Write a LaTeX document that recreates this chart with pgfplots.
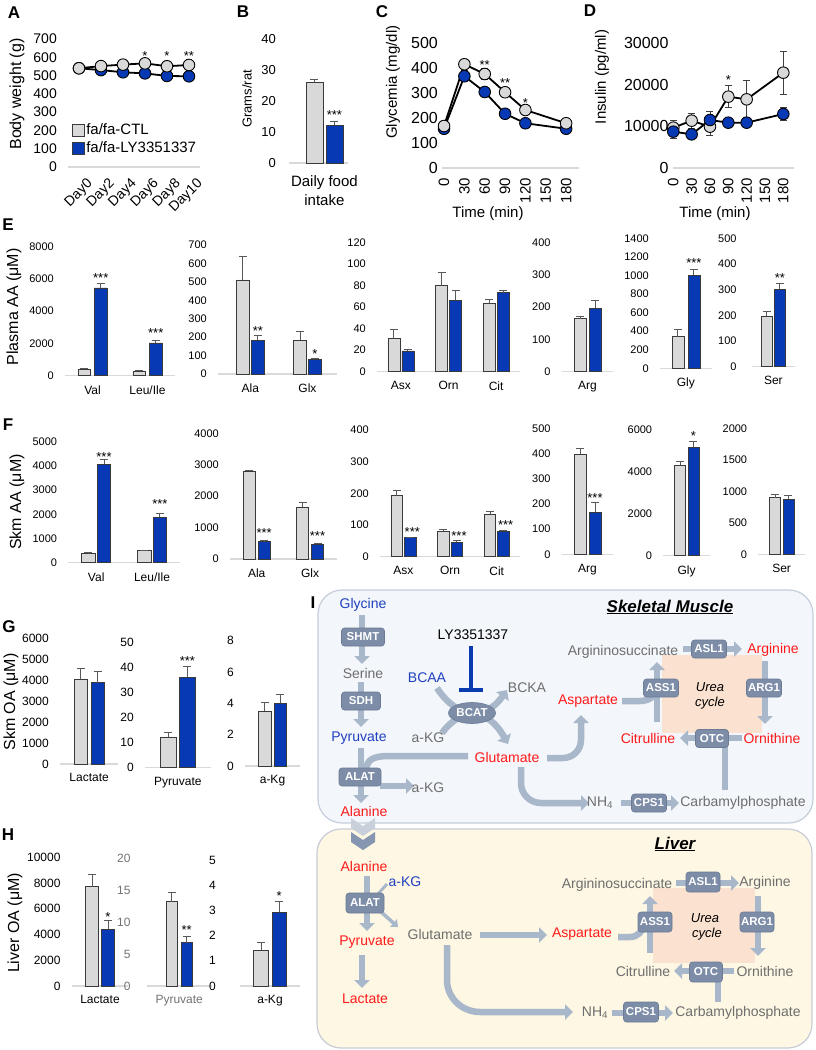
\documentclass[border=0pt]{standalone}
\usepackage{fontspec}
\setmainfont{Liberation Sans}
\usepackage{pgfplots}
\pgfplotsset{compat=1.18}
\usetikzlibrary{arrows.meta,shapes.geometric}
\newcommand{\fs}[1]{\fontsize{#1}{#1}\selectfont}
\definecolor{ctlc}{HTML}{D9D9D9}
\definecolor{lyc}{HTML}{0839B5}
\definecolor{axc}{HTML}{D9D9D9}
\definecolor{errc}{HTML}{595959}
\definecolor{bordc}{HTML}{3A3A3A}
\definecolor{smf}{HTML}{F3F6FA}
\definecolor{smb}{HTML}{C5CEDB}
\definecolor{lvf}{HTML}{FDF7E3}
\definecolor{lvb}{HTML}{C9CCD6}
\definecolor{urea}{HTML}{FBE1CF}
\definecolor{arrc}{HTML}{A9B7CA}
\definecolor{enzc}{HTML}{7D8DA8}
\definecolor{enzd}{HTML}{6B7B96}
\definecolor{grayc}{HTML}{6E6E6E}
\definecolor{redc}{HTML}{FF1A1A}
\definecolor{bluec}{HTML}{2040C0}
\definecolor{inhc}{HTML}{0A3CB0}
\definecolor{chev1}{HTML}{C8D0DC}
\definecolor{chev2}{HTML}{8796B0}
\pgfplotsset{
 panel/.style={scale only axis, anchor=south west, clip=false,
   axis x line*=bottom, axis y line*=left,
   x axis line style={draw=axc, line width=1.4pt, -},
   y axis line style={draw=none},
   major tick length=0pt, tick style={draw=none},
   ymin=0, scaled y ticks=false,
   /pgf/number format/1000 sep={}, /pgf/number format/assume math mode=true},
 yt/.style 2 args={yticklabel style={anchor=east, inner sep=0pt, xshift=-#1, font=\fs{#2}}},
 bp/.style 2 args={panel, ybar=#2, bar width=#1, yt={11pt}{11},
   xticklabel style={anchor=north, inner sep=0pt, yshift=-9.5pt, font=\fs{12}}},
 ctl/.style={fill=ctlc, draw=bordc, line width=0.6pt, error bars/y dir=plus, error bars/y explicit,
   error bars/error bar style={draw=errc, line width=0.8pt},
   error bars/error mark options={draw=errc, rotate=90, mark size=4pt, line width=0.8pt}},
 ly/.style={fill=lyc, draw=bordc, line width=0.6pt, error bars/y dir=plus, error bars/y explicit,
   error bars/error bar style={draw=errc, line width=0.8pt},
   error bars/error mark options={draw=errc, rotate=90, mark size=4pt, line width=0.8pt}},
 ctlline/.style={black, line width=1.8pt, mark=*, mark size=5.8pt, mark options={fill=ctlc, draw=black, line width=0.9pt}},
 lyline/.style={black, line width=1.8pt, mark=*, mark size=5.8pt, mark options={fill=lyc, draw=black, line width=0.9pt}},
 lerr/.style={error bars/y dir=both, error bars/y explicit,
   error bars/error bar style={draw=black!75, line width=0.9pt},
   error bars/error mark options={draw=black!75, rotate=90, mark size=3.5pt, line width=0.9pt}},
 sqleg/.style={legend image code/.code={\draw[##1, line width=0.6pt] (0pt,-6pt) rectangle (12pt,6pt);}},
}
\tikzset{
 st/.style={font=\fs{13}, anchor=base, yshift=2pt, inner sep=0pt},
 txt/.style={font=\fs{14}, inner sep=0pt},
 gr/.style={txt, text=grayc}, rd/.style={txt, text=redc}, bl/.style={txt, text=bluec},
 enz/.style={fill=enzc, draw=enzd, line width=0.6pt, rounded corners=3pt, text=white, font=\bfseries\fs{11.5}, inner sep=0pt, minimum height=18pt, minimum width=#1},
 enz/.default=38pt,
 fl/.style={draw=arrc, line width=6.5pt, -{Triangle[length=8pt, width=15pt]}},
 fln/.style={draw=arrc, line width=6.5pt},
}
\begin{document}
\begin{tikzpicture}[x=1pt,y=1pt]
\useasboundingbox (0,0) rectangle (815,-1050);
\fill[white] (0,0) rectangle (815,-1050);

% panel letters
\foreach \l/\x/\y in {A/14/13, B/243/12, C/382/12, D/590/11, E/8/225, F/8/425, G/9/627, H/8/835, I/313/603}
  \node[font=\bfseries\fs{17}] at (\x,-\y) {\l};

% axis labels
\node[rotate=90, font=\fs{16}] at (17,-94) {Body weight (g)};
\node[rotate=90, font=\fs{13}] at (247,-99) {Grams/rat};
\node[rotate=90, font=\fs{15}] at (393,-82) {Glycemia (mg/dl)};
\node[rotate=90, font=\fs{15}] at (602,-77) {Insulin (pg/ml)};
\node[font=\fs{15}] at (488,-214) {Time (min)};
\node[font=\fs{15}] at (715,-214) {Time (min)};
\node[rotate=90, font=\fs{16}] at (14,-307) {Plasma AA (μM)};
\node[rotate=90, font=\fs{16}] at (17,-502) {Skm AA (μM)};
\node[rotate=90, font=\fs{16}] at (11,-702) {Skm OA (μM)};
\node[rotate=90, font=\fs{16}] at (15,-923) {Liver OA (μM)};

% ---------- A ----------
\begin{axis}[panel, at={(68pt,-167pt)}, width=132pt, height=128pt, xmin=-0.5, xmax=5.5, ymax=700,
  ytick={0,100,...,700}, xtick={0,...,5}, xticklabels={Day0,Day2,Day4,Day6,Day8,Day10},
  yt={11pt}{14},
  xticklabel style={font=\fs{14}, inner sep=0pt, xshift=7pt, yshift=-10pt, rotate=45, anchor=north east},
  legend style={draw=none, fill=none, at={(axis cs:-0.32,246)}, anchor=north west, font=\fs{15}, inner sep=0pt, row sep=3pt, nodes={inner sep=1.5pt}},
  legend cell align=left]
\addlegendimage{sqleg, fill=ctlc, draw=bordc}
\addlegendentry{fa/fa-CTL}
\addlegendimage{sqleg, fill=lyc, draw=bordc}
\addlegendentry{fa/fa-LY3351337}
\addplot[lyline, forget plot] coordinates {(0,540) (1,530) (2,518) (3,512) (4,498) (5,496)};
\addplot[ctlline, forget plot] coordinates {(0,540) (1,552) (2,560) (3,567) (4,551) (5,558)};
\node[st] at (axis cs:3,572) {*};
\node[st] at (axis cs:4,572) {*};
\node[st] at (axis cs:5,572) {**};
\end{axis}

% ---------- B ----------
\begin{axis}[panel, ybar=3pt, bar width=17pt, at={(289pt,-163pt)}, width=59pt, height=124pt,
  xmin=-0.6, xmax=0.4, ymax=40, ytick={0,10,...,40}, xtick={0}, xticklabels={{Daily food\\intake}},
  yt={13pt}{13},
  xticklabel style={align=center, anchor=north, inner sep=0pt, yshift=-12pt, font=\fontsize{15}{19}\selectfont}]
\addplot[ctl] coordinates {(0,26.1) +- (0,1.0)};
\addplot[ly] coordinates {(0,12.3) +- (0,1.2)};
\node[st, xshift=10pt] at (axis cs:0,13.4) {***};
\end{axis}

% ---------- C ----------
\begin{axis}[panel, at={(442pt,-168pt)}, width=137pt, height=125pt, xmin=-3, xmax=199, ymax=500,
  ytick={0,100,...,500}, xtick={0,30,...,180}, yt={4pt}{16},
  xticklabel style={font=\fs{15}, inner sep=0pt, yshift=-10pt, rotate=90, anchor=east}]
\addplot[lyline, lerr] coordinates {(0,157) +- (0,6) (30,367) +- (0,22) (60,304) +- (0,12) (90,217) +- (0,8) (120,179) +- (0,6) (180,157) +- (0,5)};
\addplot[ctlline, lerr] coordinates {(0,168) +- (0,8) (30,415) +- (0,17) (60,376) +- (0,23) (90,303) +- (0,8) (120,232) +- (0,10) (180,179) +- (0,8)};
\node[st] at (axis cs:60,386) {**};
\node[st] at (axis cs:90,314) {**};
\node[st] at (axis cs:120,234) {*};
\end{axis}

% ---------- D ----------
\begin{axis}[panel, at={(672.7pt,-168pt)}, width=121.3pt, height=125pt, xmin=-1, xmax=197.5, ymax=30000,
  ytick={0,10000,20000,30000}, xtick={0,30,...,180}, yt={4pt}{16},
  xticklabel style={font=\fs{15}, inner sep=0pt, yshift=-10pt, rotate=90, anchor=east}]
\addplot[ctlline, lerr] coordinates {(0,9680) +- (0,1700) (30,11360) +- (0,1800) (60,9920) +- (0,2200) (90,17120) +- (0,2700) (120,16480) +- (0,4500) (180,22880) +- (0,5200)};
\addplot[lyline, lerr] coordinates {(0,8720) +- (0,1600) (30,8080) +- (0,1000) (60,11520) +- (0,2000) (90,10880) +- (0,1000) (120,10880) +- (0,1200) (180,12960) +- (0,1500)};
\node[st] at (axis cs:90,19600) {*};
\end{axis}

% ---------- E ----------
\begin{axis}[bp={12.5pt}{4pt}, at={(65pt,-375.7pt)}, width=110pt, height=129pt, xmin=-0.5, xmax=1.5,
  ymax=8000, ytick={0,2000,...,8000}, xtick={0,1}, xticklabels={Val,Leu/Ile}]
\addplot[ctl] coordinates {(0,420) +- (0,40) (1,300) +- (0,30)};
\addplot[ly] coordinates {(0,5440) +- (0,290) (1,2040) +- (0,180)};
\node[st, xshift=8.25pt] at (axis cs:0,5662) {***};
\node[st, xshift=8.25pt] at (axis cs:1,2251) {***};
\end{axis}
\begin{axis}[bp={12.5pt}{2.5pt}, at={(218pt,-374pt)}, width=119pt, height=129pt, xmin=-0.565, xmax=1.516,
  ymax=700, ytick={0,100,...,700}, xtick={0,1}, xticklabels={Ala,Glx}]
\addplot[ctl] coordinates {(0,511) +- (0,125) (1,182) +- (0,47)};
\addplot[ly] coordinates {(0,184) +- (0,25) (1,80) +- (0,7)};
\node[st, xshift=7.5pt] at (axis cs:0,199) {**};
\node[st, xshift=7.5pt] at (axis cs:1,72) {*};
\end{axis}
\begin{axis}[bp={12pt}{2pt}, at={(377pt,-371.7pt)}, width=143pt, height=129pt, xmin=-0.5, xmax=2.5,
  ymax=120, ytick={0,20,...,120}, xtick={0,1,2}, xticklabels={Asx,Orn,Cit}]
\addplot[ctl] coordinates {(0,31) +- (0,8) (1,80.4) +- (0,12) (2,63.6) +- (0,4)};
\addplot[ly] coordinates {(0,19.3) +- (0,1) (1,66.4) +- (0,9) (2,73.5) +- (0,2.5)};
\end{axis}
\begin{axis}[bp={12pt}{3pt}, at={(561.7pt,-371.7pt)}, width=51.6pt, height=129.4pt, xmin=-0.5, xmax=0.5,
  ymax=400, ytick={0,100,...,400}, xtick={0}, xticklabels={Arg}]
\addplot[ctl] coordinates {(0,164) +- (0,8)};
\addplot[ly] coordinates {(0,196) +- (0,23)};
\end{axis}
\begin{axis}[bp={12pt}{4pt}, at={(660pt,-368.3pt)}, width=51.7pt, height=130pt, xmin=-0.5, xmax=0.5,
  ymax=1400, ytick={0,200,...,1400}, xtick={0}, xticklabels={Gly}]
\addplot[ctl] coordinates {(0,340) +- (0,80)};
\addplot[ly] coordinates {(0,1005) +- (0,61)};
\node[st, xshift=8pt] at (axis cs:0,1065) {***};
\end{axis}
\begin{axis}[bp={10.5pt}{2.5pt}, at={(751.7pt,-366.7pt)}, width=43.3pt, height=128.4pt, xmin=-0.5, xmax=0.5,
  ymax=500, ytick={0,100,...,500}, xtick={0}, xticklabels={Ser}, yt={4pt}{11}]
\addplot[ctl] coordinates {(0,197) +- (0,20)};
\addplot[ly] coordinates {(0,303) +- (0,22)};
\node[st, xshift=6.5pt] at (axis cs:0,320) {**};
\end{axis}

% ---------- F ----------
\begin{axis}[bp={13.3pt}{2.3pt}, at={(68.3pt,-562.7pt)}, width=111.7pt, height=121pt, xmin=-0.5, xmax=1.5,
  ymax=5000, ytick={0,1000,...,5000}, xtick={0,1}, xticklabels={Val,Leu/Ile}]
\addplot[ctl] coordinates {(0,400) +- (0,15) (1,500) +- (0,20)};
\addplot[ly] coordinates {(0,4066) +- (0,200) (1,1876) +- (0,180)};
\node[st, xshift=7.8pt] at (axis cs:0,4091) {***};
\node[st, xshift=7.8pt] at (axis cs:1,2161) {***};
\end{axis}
\begin{axis}[bp={11.7pt}{3.3pt}, at={(230pt,-559pt)}, width=106.7pt, height=125.7pt, xmin=-0.5, xmax=1.5,
  ymax=4000, ytick={0,1000,...,4000}, xtick={0,1}, xticklabels={Ala,Glx}]
\addplot[ctl] coordinates {(0,2802) +- (0,30) (1,1656) +- (0,137)};
\addplot[ly] coordinates {(0,551) +- (0,30) (1,468) +- (0,30)};
\node[st, xshift=7.5pt] at (axis cs:0,624) {***};
\node[st, xshift=7.5pt] at (axis cs:1,519) {***};
\end{axis}
\begin{axis}[bp={11.5pt}{2pt}, at={(380pt,-556.7pt)}, width=140pt, height=126.7pt, xmin=-0.5, xmax=2.5,
  ymax=400, ytick={0,100,...,400}, xtick={0,1,2}, xticklabels={Asx,Orn,Cit}]
\addplot[ctl] coordinates {(0,193) +- (0,17) (1,81) +- (0,4) (2,135) +- (0,7)};
\addplot[ly] coordinates {(0,60) +- (0,2) (1,45) +- (0,6) (2,81) +- (0,3)};
\node[st, xshift=9pt] at (axis cs:0,58) {***};
\node[st, xshift=9pt] at (axis cs:1,44) {***};
\node[st, xshift=9pt] at (axis cs:2,81) {***};
\end{axis}
\begin{axis}[bp={12pt}{3pt}, at={(561.7pt,-554.3pt)}, width=51.6pt, height=126pt, xmin=-0.5, xmax=0.5,
  ymax=500, ytick={0,100,...,500}, xtick={0}, xticklabels={Arg}]
\addplot[ctl] coordinates {(0,398) +- (0,22)};
\addplot[ly] coordinates {(0,167) +- (0,39)};
\node[st, xshift=7.5pt] at (axis cs:0,198) {***};
\end{axis}
\begin{axis}[bp={11pt}{2.5pt}, at={(663.3pt,-555.7pt)}, width=46.7pt, height=126.4pt, xmin=-0.5, xmax=0.5,
  ymax=6000, ytick={0,2000,4000,6000}, xtick={0}, xticklabels={Gly}]
\addplot[ctl] coordinates {(0,4290) +- (0,190)};
\addplot[ly] coordinates {(0,5145) +- (0,285)};
\node[st, xshift=6.75pt] at (axis cs:0,5391) {*};
\end{axis}
\begin{axis}[bp={11pt}{2.5pt}, at={(758.3pt,-554.3pt)}, width=46.7pt, height=126pt, xmin=-0.5, xmax=0.5,
  ymax=2000, ytick={0,500,...,2000}, xtick={0}, xticklabels={Ser}]
\addplot[ctl] coordinates {(0,898) +- (0,59)};
\addplot[ly] coordinates {(0,878) +- (0,63)};
\end{axis}

% ---------- G ----------
\begin{axis}[bp={13.5pt}{3.5pt}, at={(60pt,-764pt)}, width=58.3pt, height=125.7pt, xmin=-0.5, xmax=0.5,
  ymax=6000, ytick={0,1000,...,6000}, xtick={0}, xticklabels={Lactate}, yticklabel style={font=\fs{12}}]
\addplot[ctl] coordinates {(0,4043) +- (0,525)};
\addplot[ly] coordinates {(0,3881) +- (0,525)};
\end{axis}
\begin{axis}[bp={15.5pt}{3.5pt}, at={(145pt,-767.3pt)}, width=65.7pt, height=124.6pt, xmin=-0.5, xmax=0.5,
  ymax=50, ytick={0,10,...,50}, xtick={0}, xticklabels={Pyruvate}, yticklabel style={font=\fs{12}}]
\addplot[ctl] coordinates {(0,12.0) +- (0,1.9)};
\addplot[ly] coordinates {(0,36.1) +- (0,4.5)};
\node[st, xshift=9.5pt] at (axis cs:0,40) {***};
\end{axis}
\begin{axis}[bp={12.5pt}{3.3pt}, at={(245pt,-766pt)}, width=55pt, height=125.3pt, xmin=-0.5, xmax=0.5,
  ymax=8, ytick={0,2,...,8}, xtick={0}, xticklabels={a-Kg}, yticklabel style={font=\fs{12}}]
\addplot[ctl] coordinates {(0,3.51) +- (0,0.53)};
\addplot[ly] coordinates {(0,4.0) +- (0,0.58)};
\end{axis}

% ---------- H ----------
\begin{axis}[bp={13.3pt}{2.7pt}, at={(71.7pt,-986pt)}, width=56.6pt, height=128.7pt, xmin=-0.5, xmax=0.5,
  ymax=10000, ytick={0,2000,...,10000}, xtick={0}, xticklabels={Lactate}, yticklabel style={font=\fs{12}}]
\addplot[ctl] coordinates {(0,7716) +- (0,986)};
\addplot[ly] coordinates {(0,4429) +- (0,648)};
\node[st, xshift=8pt] at (axis cs:0,4864) {*};
\end{axis}
\begin{axis}[bp={11.7pt}{3.3pt}, at={(146.7pt,-986pt)}, width=65pt, height=127.7pt, xmin=-0.5, xmax=0.5,
  ymax=20, ytick={0,5,...,20}, xtick={0}, xticklabels={Pyruvate}, yt={5pt}{12},
  yticklabel style={text=black!55}, xticklabel style={text=black!55}]
\addplot[ctl] coordinates {(0,13.2) +- (0,1.4)};
\addplot[ly] coordinates {(0,6.78) +- (0,0.94)};
\node[st, xshift=7.5pt] at (axis cs:0,7.8) {**};
\end{axis}
\begin{axis}[bp={14.5pt}{3.7pt}, at={(240pt,-986pt)}, width=60pt, height=126pt, xmin=-0.5, xmax=0.5,
  ymax=5, ytick={0,1,...,5}, xtick={0}, xticklabels={a-Kg}, yt={13pt}{12}]
\addplot[ctl] coordinates {(0,1.43) +- (0,0.29)};
\addplot[ly] coordinates {(0,2.94) +- (0,0.43)};
\node[st, xshift=9.1pt] at (axis cs:0,3.33) {*};
\end{axis}

% ---------- I : diagram ----------
\draw[draw=smb, fill=smf, line width=1.2pt, rounded corners=24pt] (318,-590) rectangle (813,-823);
\draw[draw=lvb, fill=lvf, line width=1.2pt, rounded corners=24pt] (317,-829) rectangle (812,-1048);
\fill[urea] (661.7,-655) rectangle (761.7,-733.3);
\fill[urea] (653.3,-888.3) rectangle (755,-963.3);
\fill[chev1] (351,-818) -- (363,-826) -- (375,-818) -- (375,-828) -- (363,-836) -- (351,-828) -- cycle;
\fill[chev2] (351,-832) -- (363,-840) -- (375,-832) -- (375,-842) -- (363,-850) -- (351,-842) -- cycle;

% skeletal muscle arrows
\draw[fl] (362,-615) -- (362,-664);
\draw[fl] (361,-682) -- (361,-727);
\draw[fl] (361,-748) -- (361,-803);
\draw[fl] (380,-786) -- (414,-786);
\draw[fln] (468,-756) -- (390,-756) .. controls (372,-756) and (367,-760) .. (366,-770);
\draw[fl] (437,-688) .. controls (458,-720) and (486,-720) .. (507,-690);
\draw[fl] (442,-733) .. controls (462,-706) and (488,-708) .. (508,-744);
\draw[fl] (547,-758) -- (563,-758) to[out=0,in=-90] (581,-740) -- (581,-715);
\draw[fl] (521,-767) -- (521,-783) to[out=-90,in=180] (541,-803) -- (589,-803);
\draw[fln] (622,-701) -- (640,-701) to[out=0,in=-90] (657,-688);
\draw[fl] (657,-722) -- (657,-662);
\draw[fl] (683,-649) -- (742,-649);
\draw[fl] (765,-661) -- (765,-724);
\draw[fl] (742,-738) -- (680,-738);
\draw[fln] (725,-790) -- (725,-745);
\draw[fl] (621,-803) -- (679,-803);
\draw[draw=inhc, line width=4.5pt] (471,-646) -- (471,-689);
\draw[draw=inhc, line width=4.5pt] (459,-690) -- (483,-690);

% skeletal muscle nodes
\node[enz=43pt] at (363,-637) {SHMT};
\node[enz=39pt] at (361,-701) {SDH};
\node[enz=42pt] at (360,-777) {ALAT};
\node[ellipse, fill=enzc, draw=enzd, line width=0.6pt, text=white, font=\bfseries\fs{11.5}, inner sep=0pt, minimum width=47pt, minimum height=21pt] at (472,-713) {BCAT};
\node[enz=35pt] at (661,-688) {ASS1};
\node[enz=35pt] at (764,-688) {ARG1};
\node[enz=35pt] at (709,-649) {ASL1};
\node[enz=33pt] at (712,-738.5) {OTC};
\node[enz=35pt] at (649,-803) {CPS1};

\node[font=\bfseries\itshape\fs{17}] at (670,-607) {\underline{Skeletal Muscle}};
\node[bl] at (363,-605) {Glycine};
\node[gr] at (363,-673) {Serine};
\node[bl] at (359,-738) {Pyruvate};
\node[rd] at (364,-811) {Alanine};
\node[gr] at (428,-788) {a-KG};
\node[txt] at (473,-635) {LY3351337};
\node[bl] at (427,-678) {BCAA};
\node[gr] at (527,-688) {BCKA};
\node[gr] at (428,-738) {a-KG};
\node[rd] at (507,-757) {Glutamate};
\node[rd] at (588,-701) {Aspartate};
\node[gr] at (623,-652) {Argininosuccinate};
\node[rd] at (773,-650) {Arginine};
\node[rd] at (648,-738) {Citrulline};
\node[rd] at (772,-738) {Ornithine};
\node[gr] at (600,-803) {NH\textsubscript{4}};
\node[gr] at (743,-803) {Carbamylphosphate};
\node[txt, font=\itshape\fs{13}] at (710,-687) {Urea};
\node[txt, font=\itshape\fs{13}] at (710,-703) {cycle};

% liver arrows
\draw[fl] (367,-876) -- (367,-931);
\draw[draw=arrc, line width=3pt] (387,-884) -- (377,-895);
\draw[draw=arrc, line width=3.5pt, -{Triangle[length=6pt, width=10pt]}] (380,-911) -- (398,-927);
\draw[fl] (362,-955) -- (362,-988);
\draw[fl] (480,-935) -- (547,-935);
\draw[fln] (618,-937) -- (630,-937) to[out=0,in=-110] (645,-924);
\draw[fl] (650,-953) -- (650,-896);
\draw[fl] (676,-883) -- (739,-883);
\draw[fl] (758,-896) -- (758,-956);
\draw[fl] (734,-971) -- (674,-971);
\draw[fln] (718,-1002) -- (718,-978);
\draw[fl] (612,-1013) -- (673,-1013);
\draw[fl] (447,-945) -- (447,-980) to[out=-90,in=180] (480,-1012) -- (573,-1012);

% liver nodes
\node[enz=38pt, minimum height=20pt] at (365,-903) {ALAT};
\node[enz=34pt, minimum height=20pt] at (703,-882) {ASL1};
\node[enz=34pt, minimum height=20pt] at (655,-922) {ASS1};
\node[enz=34pt, minimum height=20pt] at (757,-922) {ARG1};
\node[enz=33pt, minimum height=20pt] at (706,-972) {OTC};
\node[enz=35pt, minimum height=20pt] at (641,-1012) {CPS1};

\node[font=\bfseries\itshape\fs{17}] at (675,-844) {\underline{Liver}};
\node[rd] at (364,-866) {Alanine};
\node[bl] at (405,-882) {a-KG};
\node[rd] at (367,-942) {Pyruvate};
\node[rd] at (365,-999) {Lactate};
\node[gr] at (440,-934) {Glutamate};
\node[rd] at (582,-934) {Aspartate};
\node[gr] at (617,-885) {Argininosuccinate};
\node[gr] at (765,-883) {Arginine};
\node[gr] at (643,-971) {Citrulline};
\node[gr] at (765,-971) {Ornithine};
\node[gr] at (595,-1013) {NH\textsubscript{4}};
\node[gr] at (738,-1013) {Carbamylphosphate};
\node[txt, font=\itshape\fs{13}] at (705,-918) {Urea};
\node[txt, font=\itshape\fs{13}] at (707,-934) {cycle};
\end{tikzpicture}
\end{document}
